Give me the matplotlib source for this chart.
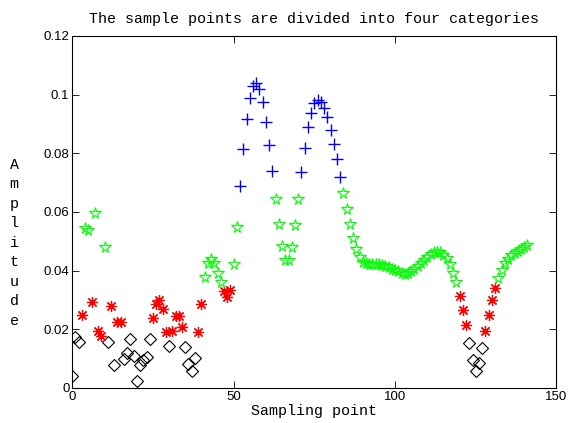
import matplotlib
matplotlib.use("Agg")
import matplotlib.pyplot as plt

# ---- data (sample index, amplitude) per category ----
black_x = [0, 1, 2, 11, 13, 16, 17, 18, 19, 20, 21, 22, 23, 24, 30, 35, 36, 37, 38,
           123, 124, 125, 126, 127]
black_y = [0.0039, 0.0175, 0.0157, 0.0155, 0.0078, 0.0098, 0.0118, 0.0166, 0.0109, 0.0022,
           0.0078, 0.0095, 0.0107, 0.0166, 0.0143, 0.0139, 0.0082, 0.0056, 0.0101,
           0.0152, 0.0095, 0.0059, 0.0084, 0.0137]

red_x = [3, 6, 8, 9, 12, 14, 15, 25, 26, 27, 28, 29, 31, 32, 33, 34, 39, 40, 47, 48, 49,
         120, 121, 122, 128, 129, 130, 131]
red_y = [0.0247, 0.0294, 0.0195, 0.0178, 0.0280, 0.0226, 0.0224, 0.0239, 0.0286, 0.0298,
         0.0268, 0.0189, 0.0194, 0.0245, 0.0245, 0.0206, 0.0190, 0.0286, 0.0332, 0.0309,
         0.0334, 0.0314, 0.0266, 0.0214, 0.0194, 0.0249, 0.0298, 0.0340]

green_x = [4, 5, 7, 10, 41, 42, 43, 44, 45, 46, 50, 51,
           63, 64, 65, 66, 67, 68, 69, 70,
           84, 85, 86, 87, 88, 89, 90, 91, 92, 93, 94, 95, 96, 97, 98, 99, 100, 101,
           102, 103, 104, 105, 106, 107, 108, 109, 110, 111, 112, 113, 114, 115, 116,
           117, 118, 119,
           132, 133, 134, 135, 136, 137, 138, 139, 140, 141]
green_y = [0.0545, 0.0537, 0.0598, 0.0482, 0.0377, 0.0427, 0.0439, 0.0427, 0.0393, 0.0362,
           0.0423, 0.0550,
           0.0644, 0.0559, 0.0485, 0.0436, 0.0436, 0.0482, 0.0556, 0.0644,
           0.0666, 0.0609, 0.0559, 0.0510, 0.0474, 0.0447, 0.0430, 0.0425, 0.0424, 0.0424,
           0.0423, 0.0422, 0.0420, 0.0417, 0.0412, 0.0407, 0.0402, 0.0397, 0.0392, 0.0390,
           0.0392, 0.0397, 0.0405, 0.0414, 0.0425, 0.0436, 0.0448, 0.0457, 0.0463, 0.0465,
           0.0462, 0.0454, 0.0442, 0.0422, 0.0392, 0.0360,
           0.0374, 0.0402, 0.0425, 0.0440, 0.0452, 0.0461, 0.0468, 0.0474, 0.0480, 0.0487]

blue_x = [52, 53, 54, 55, 56, 57, 58, 59, 60, 61, 62,
          71, 72, 73, 74, 75, 76, 77, 78, 79, 80, 81, 82, 83]
blue_y = [0.0689, 0.0816, 0.0918, 0.0990, 0.1030, 0.1039, 0.1018, 0.0975, 0.0908, 0.0827,
          0.0740,
          0.0735, 0.0819, 0.0888, 0.0936, 0.0970, 0.0983, 0.0976, 0.0955, 0.0924, 0.0880,
          0.0832, 0.0779, 0.0720]

title = "The sample points are divided into four categories"
xlabel = "Sampling point"
ylabel = "Amplitude"
xticks = [0, 50, 100, 150]
yticks = [0, 0.02, 0.04, 0.06, 0.08, 0.1, 0.12]
yticklabels = ["0", "0.02", "0.04", "0.06", "0.08", "0.1", "0.12"]

fig = plt.figure(figsize=(5.69, 4.23), dpi=100)
ax = fig.add_axes([0.127, 0.083, 0.851, 0.832])

ax.plot(black_x, black_y, linestyle="none", marker="D", ms=6, mfc="none",
        mec="black", mew=0.8)
ax.plot(red_x, red_y, linestyle="none", marker=(8, 2, 0), ms=8,
        mec=(1, 0, 0), mew=0.9)
ax.plot(green_x, green_y, linestyle="none", marker="*", ms=8.5, mfc="none",
        mec=(0, 1, 0), mew=0.8)
ax.plot(blue_x, blue_y, linestyle="none", marker="+", ms=8,
        mec=(0, 0, 1), mew=1.0)

ax.set_xlim(0, 150)
ax.set_ylim(0, 0.12)
ax.set_xticks(xticks)
ax.set_xticklabels([str(t) for t in xticks], fontsize=9.5, family="Liberation Sans")
ax.set_yticks(yticks)
ax.set_yticklabels(yticklabels, fontsize=9.5, family="Liberation Sans")
ax.tick_params(direction="in", top=True, right=True, length=5, width=0.6, pad=2)
for s in ax.spines.values():
    s.set_linewidth(0.8)

mono = "Liberation Mono"
ax.set_title(title, fontsize=10.8, family=mono, pad=9)
ax.set_xlabel(xlabel, fontsize=10.8, family=mono, labelpad=1)
fig.text(0.025, 0.426, "\n".join(ylabel), fontsize=10.8, family=mono,
         ha="center", va="center", linespacing=1.5)

fig.savefig("out.png", dpi=100)
